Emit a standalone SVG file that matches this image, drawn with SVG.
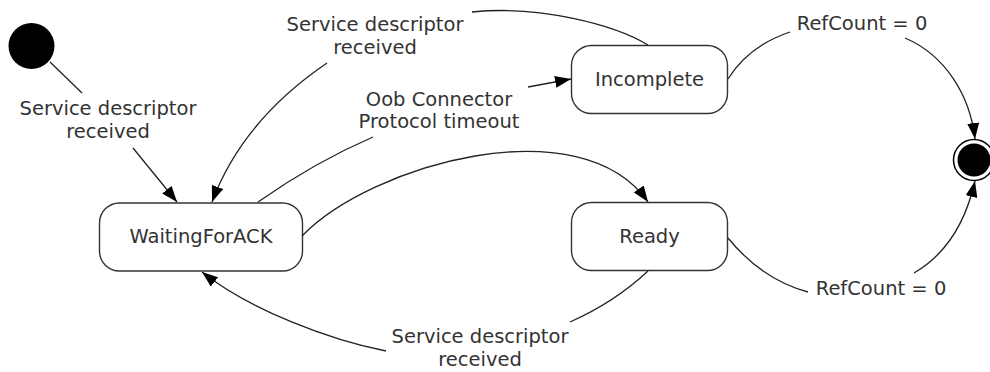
<svg xmlns="http://www.w3.org/2000/svg" width="990" height="372" viewBox="0 0 990 372">
<style>
  .node rect { fill: #ffffff; stroke: #333333; stroke-width: 1.4; }
  text { font-family: "DejaVu Sans", Verdana, sans-serif; font-size: 19.5px; fill: #333333; text-anchor: middle; }
  .edge { fill: none; stroke: #222222; stroke-width: 1.3; }
</style>
<defs>
  <marker id="arr" markerWidth="16" markerHeight="12" refX="16" refY="6" orient="auto" markerUnits="userSpaceOnUse">
    <path d="M0,0 L16,6 L0,12 z" fill="#000000"/>
  </marker>
</defs>
<rect width="990" height="372" fill="#ffffff"/>

<g id="start">
  <circle cx="31.5" cy="46" r="23" fill="#000000"/>
</g>
<g id="end">
  <circle cx="974" cy="160" r="20.5" fill="#ffffff" stroke="#000000" stroke-width="1.5"/>
  <circle cx="974" cy="160" r="16.5" fill="#000000"/>
</g>
<g id="waitingForACK" class="node">
  <rect x="99.5" y="203" width="203" height="68" rx="20" ry="20"/>
  <text x="201" y="243">WaitingForACK</text>
</g>
<g id="incomplete" class="node">
  <rect x="571.5" y="45.5" width="156" height="68" rx="20" ry="20"/>
  <text x="649.5" y="86">Incomplete</text>
</g>
<g id="ready" class="node">
  <rect x="571.5" y="202.5" width="156" height="68" rx="20" ry="20"/>
  <text x="649.5" y="243">Ready</text>
</g>

<g id="connectors">
  <path class="edge" d="M50,62 L82,93"/>
  <path class="edge" d="M133,148 L177,202" marker-end="url(#arr)"/>

  <path class="edge" d="M648,45 C615,25 540,5 472,12"/>
  <path class="edge" d="M327,63 C280,95 235,140 212,202" marker-end="url(#arr)"/>

  <path class="edge" d="M258,202 Q315,162 373,137"/>
  <path class="edge" d="M528,87 L571,79" marker-end="url(#arr)"/>

  <path class="edge" d="M302,236 C370,165 580,105 648,202" marker-end="url(#arr)"/>

  <path class="edge" d="M648,271 Q615,302 570,322"/>
  <path class="edge" d="M386,351 C330,340 250,310 202,272" marker-end="url(#arr)"/>

  <path class="edge" d="M728,79 C740,60 760,42 790,32"/>
  <path class="edge" d="M905,38 C945,55 970,95 975,139" marker-end="url(#arr)"/>

  <path class="edge" d="M728,238 C750,265 775,283 808,292"/>
  <path class="edge" d="M914,273 C945,255 965,225 975,181" marker-end="url(#arr)"/>
</g>

<g id="labels">
  <text x="108" y="115">Service descriptor</text>
  <text x="108" y="138">received</text>
  <text x="375" y="31">Service descriptor</text>
  <text x="375" y="54">received</text>
  <text x="439" y="106">Oob Connector</text>
  <text x="439" y="128">Protocol timeout</text>
  <text x="862" y="30">RefCount = 0</text>
  <text x="881" y="295">RefCount = 0</text>
  <text x="480" y="343">Service descriptor</text>
  <text x="480" y="366">received</text>
</g>
</svg>
